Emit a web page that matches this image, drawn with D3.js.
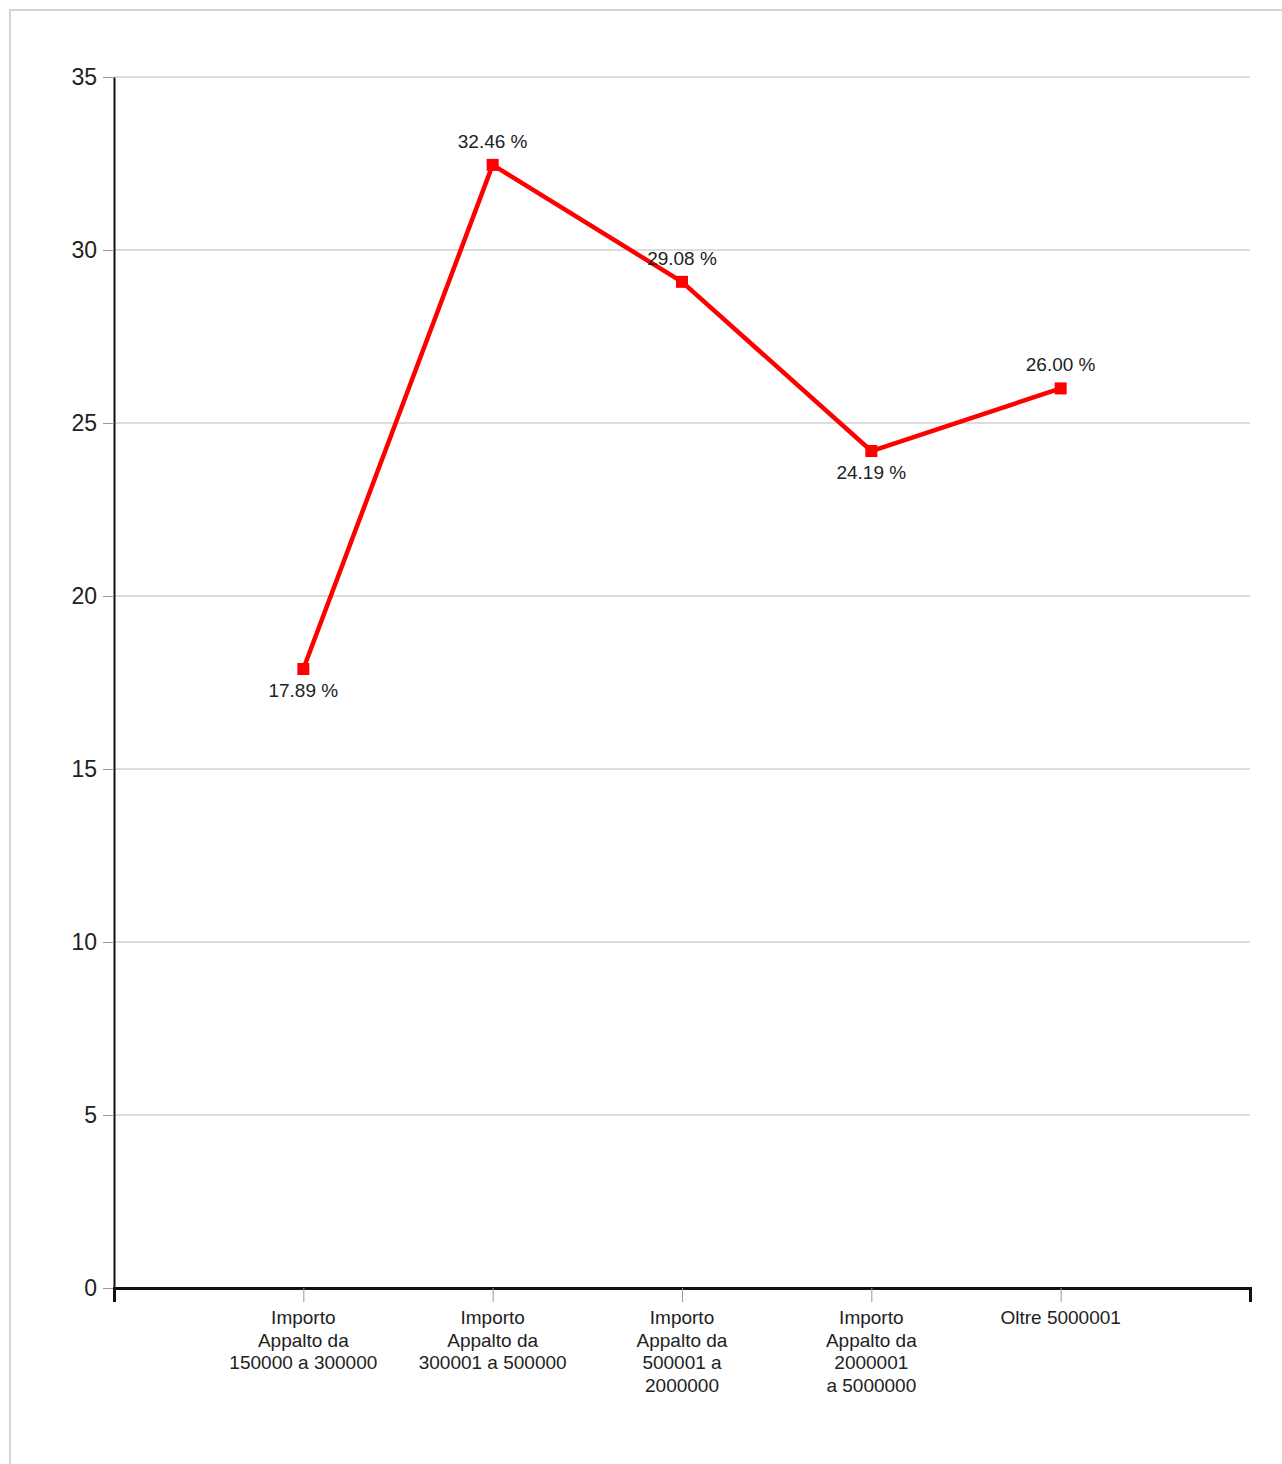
<!DOCTYPE html>
<html>
<head>
<meta charset="utf-8">
<script src="https://d3js.org/d3.v7.min.js"></script>
<style>
body { margin: 0; background: #fff; }
text { font-family: "Liberation Sans", Arial, sans-serif; fill: #222; }
</style>
</head>
<body>
<script>
// categories (tick labels, already split in lines as in the original)
var categories = ["c1", "c2", "c3", "c4", "c5"];
var tickLabels = [
	["Importo", "Appalto da", "150000 a 300000"],
	["Importo", "Appalto da", "300001 a 500000"],
	["Importo", "Appalto da", "500001 a", "2000000"],
	["Importo", "Appalto da", "2000001", "a 5000000"],
	["Oltre 5000001"]
];
var values = [17.89, 32.46, 29.08, 24.19, 26.00];
var labelBelow = [true, false, false, true, false];
var yTicks = [0, 5, 10, 15, 20, 25, 30, 35];

var W = 1282, H = 1464;
var mLeft = 114, mRight = 1250, mTop = 77, mBottom = 1288;

var svg = d3.select("body").append("svg")
	.attr("width", W)
	.attr("height", H);

// outer frame
svg.append("rect")
	.attr("x", 10).attr("y", 10)
	.attr("width", W + 20).attr("height", H + 20)
	.style("fill", "none")
	.style("stroke", "#d4d4d4")
	.style("stroke-width", 2);

var x = d3.scalePoint().domain(categories).range([mLeft, mRight]).padding(1);
var y = d3.scaleLinear().domain([0, 35]).range([mBottom, mTop]);

// gridlines
svg.append("g").selectAll("line")
	.data(yTicks.filter(function(d){ return d > 0; }))
	.enter().append("line")
	.attr("x1", mLeft).attr("x2", mRight)
	.attr("y1", function(d){ return y(d); })
	.attr("y2", function(d){ return y(d); })
	.style("stroke", "#dcdcdc")
	.style("stroke-width", 2);

// y axis
var yAxis = svg.append("g")
	.attr("transform", "translate(" + mLeft + ",0)")
	.call(d3.axisLeft(y).tickValues(yTicks).tickSize(11).tickSizeOuter(0).tickPadding(6));
yAxis.select(".domain").style("stroke", "#111").style("stroke-width", 2);
yAxis.selectAll(".tick line").style("stroke", "#999");
yAxis.selectAll("text").attr("font-size", "23px").style("font-family", "'Liberation Sans', Arial, sans-serif").style("fill", "#222");

// x axis
var xAxis = svg.append("g")
	.attr("transform", "translate(0," + mBottom + ")")
	.call(d3.axisBottom(x).tickSize(14).tickSizeOuter(14).tickFormat(""));
xAxis.select(".domain").style("stroke", "#111").style("stroke-width", 3);
xAxis.selectAll(".tick line").style("stroke", "#999");

// multi-line x tick labels
categories.forEach(function(c, i){
	var t = svg.append("text")
		.attr("x", x(c))
		.attr("y", mBottom + 36)
		.attr("text-anchor", "middle")
		.attr("font-size", "19px");
	tickLabels[i].forEach(function(line, j){
		t.append("tspan")
			.attr("x", x(c))
			.attr("dy", j === 0 ? 0 : 22.5)
			.text(line);
	});
});

// line
var line = d3.line()
	.x(function(d, i){ return x(categories[i]); })
	.y(function(d){ return y(d); });

svg.append("path")
	.datum(values)
	.attr("d", line)
	.style("fill", "none")
	.style("stroke", "#ff0000")
	.style("stroke-width", 4.5)
	.style("stroke-linejoin", "round");

// markers
svg.append("g").selectAll("rect")
	.data(values)
	.enter().append("rect")
	.attr("x", function(d, i){ return x(categories[i]) - 6; })
	.attr("y", function(d){ return y(d) - 6; })
	.attr("width", 12).attr("height", 12)
	.style("fill", "#ff0000");

// value labels
svg.append("g").selectAll("text")
	.data(values)
	.enter().append("text")
	.attr("x", function(d, i){ return x(categories[i]); })
	.attr("y", function(d, i){ return labelBelow[i] ? y(d) + 28 : y(d) - 17; })
	.attr("text-anchor", "middle")
	.attr("font-size", "19px")
	.text(function(d){ return d.toFixed(2) + " %"; });
</script>
</body>
</html>
